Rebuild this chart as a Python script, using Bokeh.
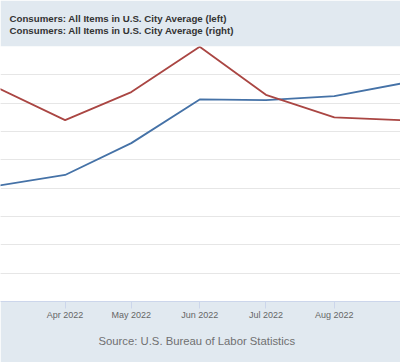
from datetime import datetime
from bokeh.plotting import figure
from bokeh.models import Range1d, FixedTicker, Grid, Title, DatetimeTickFormatter
from bokeh.embed import file_html
from bokeh.resources import INLINE

# ---- data ----
months = ["2022-03-01", "2022-04-01", "2022-05-01", "2022-06-01",
          "2022-07-01", "2022-08-01", "2022-09-01"]
cpi_index = [287.708, 288.663, 291.474, 295.328, 295.271, 295.620, 296.761]   # left axis
cpi_pct_change = [8.61, 8.25, 8.56, 9.06, 8.53, 8.28, 8.25]                  # right axis
left_ticks = [277.5, 280, 282.5, 285, 287.5, 290, 292.5, 295, 297.5, 300]
legend_left = "Consumers: All Items in U.S. City Average (left)"
legend_right = "Consumers: All Items in U.S. City Average (right)"
source_text = "Source: U.S. Bureau of Labor Statistics"

dates = [datetime.strptime(m, "%Y-%m-%d") for m in months]

def ms(d):
    return (d - datetime(1970, 1, 1)).total_seconds() * 1000.0

DAY = 86400000.0
apr1 = ms(datetime(2022, 4, 1))
x_start = apr1 - 29.28 * DAY
x_end = apr1 + 152.0 * DAY

BG = "#e1e9f0"
p = figure(width=400, height=362, output_backend="svg", toolbar_location=None,
           x_axis_type="datetime", y_axis_location=None,
           x_range=Range1d(x_start, x_end), y_range=Range1d(277.5, 300),
           min_border_left=0, min_border_right=0, min_border_top=46, min_border_bottom=61)
p.extra_y_ranges = {"right": Range1d(6.25, 9.0625)}
p.border_fill_color = BG
p.background_fill_color = "white"
p.outline_line_color = None
p.xgrid.visible = False
p.add_layout(Grid(dimension=1, ticker=FixedTicker(ticks=left_ticks),
                  grid_line_color="#e6e6e6", grid_line_width=1))

ax = p.xaxis[0]
ax.ticker = FixedTicker(ticks=[ms(d) for d in dates])
ax.formatter = DatetimeTickFormatter(days="%b %Y", months="%b %Y", years="%b %Y")
ax.axis_line_color = "#ccd6eb"
ax.major_tick_line_color = "#ccd6eb"
ax.major_tick_out = 7
ax.major_tick_in = 0
ax.minor_tick_line_color = None
ax.major_label_text_font = "Liberation Sans"
ax.major_label_text_font_size = "9px"
ax.major_label_text_color = "#666666"
ax.major_label_standoff = 1

p.line(dates, cpi_index, line_color="#4572a7", line_width=1.8)
p.line(dates, cpi_pct_change, line_color="#aa4643", line_width=1.8, y_range_name="right")

# legend text (visible part)
p.title.text = legend_left + "\n" + legend_right
p.title.align = "left"
p.title.offset = 9
p.title.standoff = 20
p.title.text_font = "Liberation Sans"
p.title.text_font_size = "9.7px"
p.title.text_font_style = "bold"
p.title.text_color = "#333333"
p.title.text_line_height = 1.14

p.add_layout(Title(text=source_text, align="left", offset=98, standoff=20,
                   text_font="Liberation Sans", text_font_size="11.3px",
                   text_font_style="normal", text_color="#707070"), "below")

open("out.html", "w").write(file_html(p, INLINE))
